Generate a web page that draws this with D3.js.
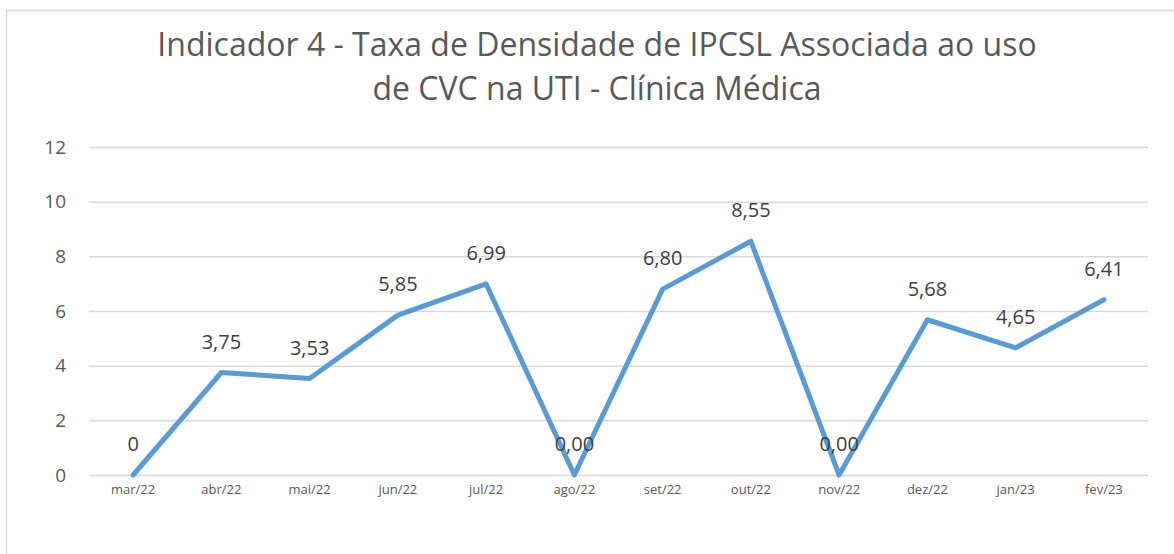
<!DOCTYPE html>
<html>
<head>
<meta charset="utf-8">
<script src="https://cdn.jsdelivr.net/npm/d3@7"></script>
<style>
  body { margin: 0; background: #fff; }
  svg { display: block; font-family: "Open Sans", "Noto Sans", sans-serif; }
</style>
</head>
<body>
<svg id="chart" width="1174" height="554"></svg>
<script>
// data
const months = ["mar/22", "abr/22", "mai/22", "jun/22", "jul/22", "ago/22",
                "set/22", "out/22", "nov/22", "dez/22", "jan/23", "fev/23"];
const values = [0, 3.75, 3.53, 5.85, 6.99, 0.00, 6.80, 8.55, 0.00, 5.68, 4.65, 6.41];
const valueLabels = ["0", "3,75", "3,53", "5,85", "6,99", "0,00", "6,80", "8,55", "0,00", "5,68", "4,65", "6,41"];
const yTicks = [0, 2, 4, 6, 8, 10, 12];
const titleLines = ["Indicador 4 - Taxa de Densidade de IPCSL Associada ao uso",
                    "de CVC na UTI - Clínica Médica"];

const W = 1174, H = 554;
const margin = { top: 147, right: 26, bottom: 79, left: 89 };

const svg = d3.select("#chart");

// chart frame (runs off the right and bottom edges)
svg.append("rect")
  .attr("x", 6.5).attr("y", 10.5)
  .attr("width", W + 10).attr("height", H + 10)
  .attr("fill", "#fff")
  .attr("stroke", "#d9d9d9").attr("stroke-width", 1.5);

const x = d3.scaleBand()
  .domain(months)
  .range([margin.left, W - margin.right]);

const y = d3.scaleLinear()
  .domain([0, 12])
  .range([H - margin.bottom, margin.top]);

// title
svg.append("g")
  .selectAll("text")
  .data(titleLines)
  .join("text")
    .attr("x", 597)
    .attr("y", (d, i) => 56 + i * 44)
    .attr("text-anchor", "middle")
    .attr("fill", "#595959")
    .style("font-size", "32px")
    .text(d => d);

// y grid + labels
const yAxis = d3.axisLeft(y)
  .tickValues(yTicks)
  .tickSize(-(W - margin.right - margin.left))
  .tickPadding(23);

svg.append("g")
  .attr("transform", `translate(${margin.left},0)`)
  .call(yAxis)
  .call(g => g.select(".domain").remove())
  .call(g => g.selectAll(".tick line").attr("stroke", "#d9d9d9").attr("stroke-width", 1.5))
  .call(g => g.selectAll(".tick text")
    .attr("fill", "#595959")
    .style("font-size", "19px")
    .style("font-family", "'Open Sans', sans-serif"));

// x labels
const xAxis = d3.axisBottom(x).tickSize(0).tickPadding(10);
svg.append("g")
  .attr("transform", `translate(0,${H - margin.bottom})`)
  .call(xAxis)
  .call(g => g.select(".domain").remove())
  .call(g => g.selectAll(".tick text")
    .attr("fill", "#595959")
    .style("font-size", "13px")
    .style("font-family", "'Open Sans', sans-serif"));

const cx = d => x(d) + x.bandwidth() / 2;

// the line
const line = d3.line()
  .x((d, i) => cx(months[i]))
  .y(d => y(d));

svg.append("path")
  .datum(values)
  .attr("fill", "none")
  .attr("stroke", "#5b9bd5")
  .attr("stroke-width", 5)
  .attr("stroke-linejoin", "round")
  .attr("stroke-linecap", "round")
  .attr("d", line);

// data labels
svg.append("g")
  .selectAll("text")
  .data(values)
  .join("text")
    .attr("x", (d, i) => cx(months[i]))
    .attr("y", d => y(d) - 24)
    .attr("text-anchor", "middle")
    .attr("fill", "#404040")
    .style("font-size", "20px")
    .text((d, i) => valueLabels[i]);
</script>
</body>
</html>
